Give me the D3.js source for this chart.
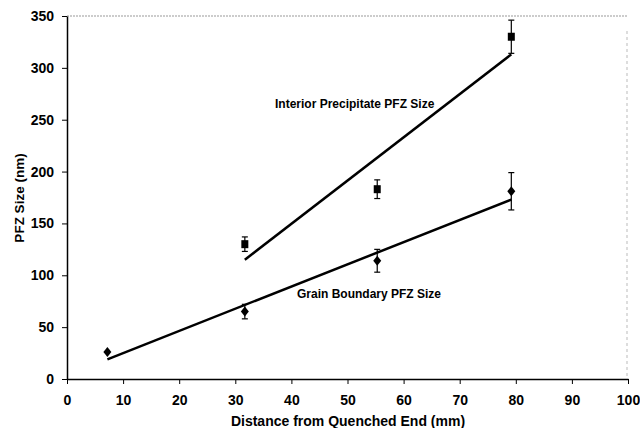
<!DOCTYPE html>
<html>
<head>
  <meta charset="utf-8">
  <style>
    body { margin: 0; background: #fff; }
    text { font-family: "Liberation Sans", Arial, sans-serif; font-weight: bold; fill: #000; }
    .tick text { font-size: 14px; }
    .tick line { stroke: #000; }
    .domain { stroke: #000; stroke-width: 1.5; }
    .trend { fill: none; stroke: #000; stroke-width: 2.5; }
    .err { stroke: #000; stroke-width: 1.2; }
  </style>
</head>
<body>
  <svg id="chart"></svg>
  <script src="https://cdn.jsdelivr.net/npm/d3@7"></script>
  <script>
    // data
    var distance = [7.2, 31.7, 55.3, 79.2];

    var interiorX = [31.7, 55.3, 79.2];
    var interiorY = [130, 183, 330];
    var interiorErr = [7, 9, 16];
    var interiorTrend = [[31.7, 115], [79.2, 313]];

    var grainX = distance;
    var grainY = [26, 65, 114, 181];
    var grainErr = [0, 7, 11, 18];
    var grainTrend = [[7.2, 19], [79.2, 173]];

    var xTicks = [0, 10, 20, 30, 40, 50, 60, 70, 80, 90, 100];
    var yTicks = [0, 50, 100, 150, 200, 250, 300, 350];

    var width = 640, height = 428;
    var padL = 67, padR = 628, padT = 16, padB = 379;  // plot area edges

    var svg = d3.select('#chart')
      .attr('width', width)
      .attr('height', height);

    var x = d3.scaleLinear().domain([0, 100]).range([padL, padR]);
    var y = d3.scaleLinear().domain([0, 350]).range([padB, padT]);

    // dotted plot area frame (top and right)
    svg.append('line')
      .attr('x1', padL).attr('y1', padT).attr('x2', padR).attr('y2', padT)
      .attr('stroke', '#999').attr('stroke-dasharray', '2,1');
    svg.append('line')
      .attr('x1', padR - 1).attr('y1', padT + 15).attr('x2', padR - 1).attr('y2', padB)
      .attr('stroke', '#bbb').attr('stroke-dasharray', '3,3');

    svg.append('g')
      .attr('transform', 'translate(0,' + padB + ')')
      .call(d3.axisBottom(x).tickValues(xTicks).tickSize(5).tickSizeOuter(0).tickPadding(11));

    svg.append('g')
      .attr('transform', 'translate(' + padL + ',0)')
      .call(d3.axisLeft(y).tickValues(yTicks).tickSize(5).tickSizeOuter(0).tickPadding(8));

    var line = d3.line().x(d => x(d[0])).y(d => y(d[1]));

    svg.append('path').datum(interiorTrend).attr('class', 'trend').attr('d', line);
    svg.append('path').datum(grainTrend).attr('class', 'trend').attr('d', line);

    function errorBars(xs, ys, es) {
      var g = svg.append('g');
      xs.forEach(function (xv, i) {
        if (!es[i]) return;
        var cx = x(xv);
        g.append('line').attr('class', 'err')
          .attr('x1', cx).attr('x2', cx)
          .attr('y1', y(ys[i] - es[i])).attr('y2', y(ys[i] + es[i]));
        [ys[i] - es[i], ys[i] + es[i]].forEach(function (v) {
          g.append('line').attr('class', 'err')
            .attr('x1', cx - 3).attr('x2', cx + 3)
            .attr('y1', y(v)).attr('y2', y(v));
        });
      });
    }

    errorBars(interiorX, interiorY, interiorErr);
    errorBars(grainX, grainY, grainErr);

    // interior: squares
    svg.selectAll('rect.sq')
      .data(interiorX)
      .enter()
      .append('rect')
      .attr('x', d => x(d) - 3.5)
      .attr('y', (d, i) => y(interiorY[i]) - 4)
      .attr('width', 7)
      .attr('height', 8)
      .attr('fill', '#000');

    // grain boundary: diamonds
    svg.selectAll('path.dia')
      .data(grainX)
      .enter()
      .append('path')
      .attr('transform', (d, i) => 'translate(' + x(d) + ',' + y(grainY[i]) + ')')
      .attr('d', 'M0,-5L4,0L0,5L-4,0Z')
      .attr('fill', '#000');

    svg.append('text')
      .attr('x', 275).attr('y', 108)
      .style('font-size', '12px')
      .text('Interior Precipitate PFZ Size');

    svg.append('text')
      .attr('x', 297).attr('y', 298)
      .style('font-size', '12px')
      .text('Grain Boundary PFZ Size');

    svg.append('text')
      .attr('x', 348).attr('y', 426)
      .attr('text-anchor', 'middle')
      .style('font-size', '14px')
      .text('Distance from Quenched End (mm)');

    svg.append('text')
      .attr('transform', 'translate(24,' + 198 + ') rotate(-90)')
      .attr('text-anchor', 'middle')
      .style('font-size', '13.5px')
      .text('PFZ Size (nm)');
  </script>
</body>
</html>
